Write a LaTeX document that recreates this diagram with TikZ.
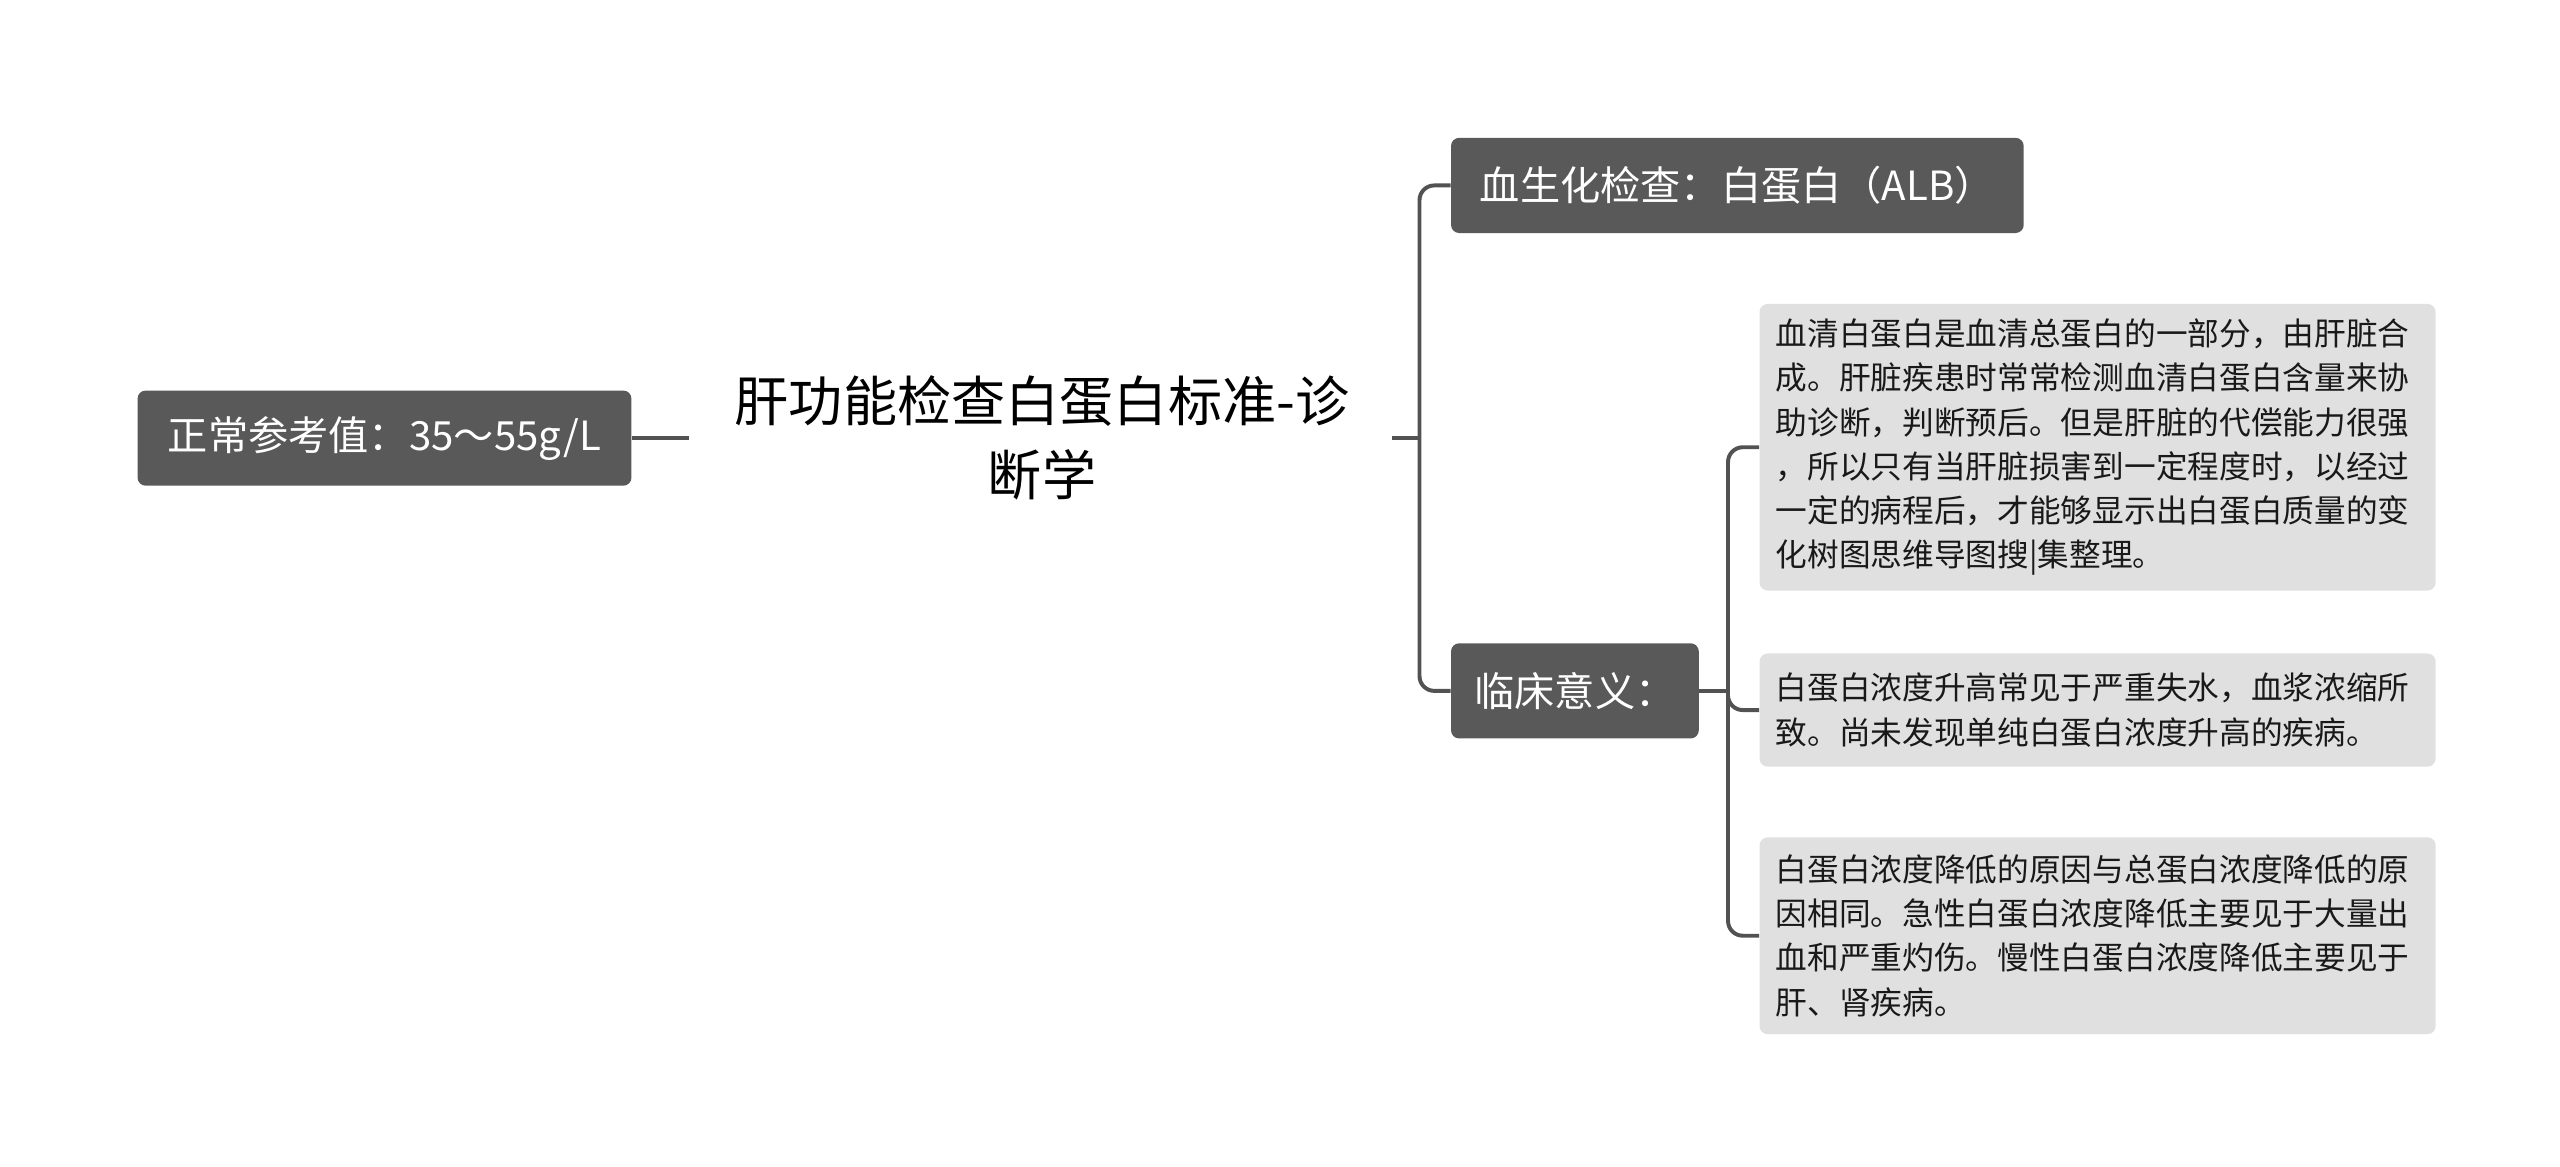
\documentclass[tikz,border=0pt]{standalone}
\usepackage{fontspec}
\setmainfont{Noto Sans CJK SC}
\begin{document}
\begin{tikzpicture}[x=1pt,y=1pt,
  dark/.style={fill=black!65,text=white,rounded corners=5pt,minimum height=58pt,inner xsep=11pt,font=\fontsize{24.5}{28}\selectfont,anchor=west},
  light/.style={fill=black!12,text=black!90,rounded corners=5pt,inner xsep=10pt,inner ysep=9pt,align=left,font=\fontsize{19.3}{27}\selectfont,anchor=north west,text width=392pt},
  conn/.style={draw=black!68,line width=2.4pt,rounded corners=9pt}]
\useasboundingbox (0,0) rectangle (1560,-711);
\node[font=\fontsize{33}{45}\selectfont,align=center] (c) at (635,-267) {肝功能检查白蛋白标准-诊\\断学};
\node[dark,anchor=east,minimum width=301pt] (l) at (385,-267) {正常参考值：35～55g/L};
\node[dark,minimum width=349pt] (r1) at (884,-113) {血生化检查：白蛋白（ALB）};
\node[dark,minimum width=151pt] (r2) at (884,-421) {临床意义：};
\node[light,minimum height=170pt] (b1) at (1072,-185) {血清白蛋白是血清总蛋白的一部分，由肝脏合\\成。肝脏疾患时常常检测血清白蛋白含量来协\\助诊断，判断预后。但是肝脏的代偿能力很强\\，所以只有当肝脏损害到一定程度时，以经过\\一定的病程后，才能够显示出白蛋白质量的变\\化树图思维导图搜|集整理。};
\node[light,minimum height=69pt] (b2) at (1072,-398) {白蛋白浓度升高常见于严重失水，血浆浓缩所\\致。尚未发现单纯白蛋白浓度升高的疾病。};
\node[light,minimum height=120pt] (b3) at (1072,-510) {白蛋白浓度降低的原因与总蛋白浓度降低的原\\因相同。急性白蛋白浓度降低主要见于大量出\\血和严重灼伤。慢性白蛋白浓度降低主要见于\\肝、肾疾病。};
\draw[conn] (l.east) -- (420,-267);
\coordinate (c1) at (848,-267);
\draw[conn] (c1) -- (865,-267);
\draw[conn] (865,-267) |- (r1.west);
\draw[conn] (865,-267) |- (r2.west);
\draw[conn] (r2.east) -- (1053,-421);
\draw[conn] (1053,-421) |- (b1.west);
\draw[conn] (1053,-421) |- (b2.west);
\draw[conn] (1053,-421) |- (b3.west);
\end{tikzpicture}
\end{document}
